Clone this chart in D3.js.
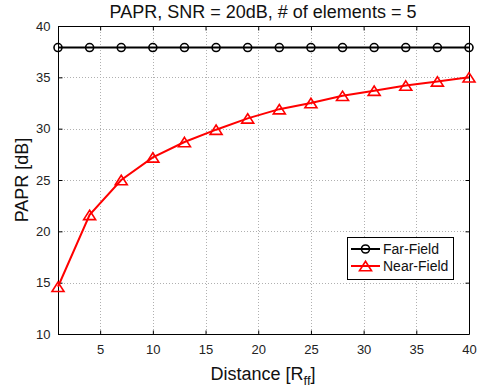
<!DOCTYPE html>
<html>
<head>
<meta charset="utf-8">
<script src="https://cdn.jsdelivr.net/npm/d3@7"></script>
<style>
  html, body { margin: 0; padding: 0; background: #fff; }
  svg { display: block; font-family: "Liberation Sans", Arial, sans-serif; }
</style>
</head>
<body>
<svg id="chart" width="482" height="391"></svg>
<script>
// Distance samples (in units of far-field distance)
const distance = [1, 4, 7, 10, 13, 16, 19, 22, 25, 28, 31, 34, 37, 40];
// PAPR in dB for each model
const farField = [37.9, 37.9, 37.9, 37.9, 37.9, 37.9, 37.9, 37.9, 37.9, 37.9, 37.9, 37.9, 37.9, 37.9];
const nearField = [14.6, 21.6, 25.0, 27.2, 28.7, 29.9, 31.0, 31.9, 32.5, 33.2, 33.7, 34.2, 34.6, 35.0];
const xTicks = [5, 10, 15, 20, 25, 30, 35, 40];
const yTicks = [10, 15, 20, 25, 30, 35, 40];

const svg = d3.select("#chart");
const m = { left: 58, right: 469, top: 26, bottom: 334 };

const x = d3.scaleLinear().domain([1, 40]).range([m.left, m.right]);
const y = d3.scaleLinear().domain([10, 40]).range([m.bottom, m.top]);

// grid
const grid = svg.append("g").attr("stroke", "#b0b0b0").attr("stroke-width", 1)
  .attr("stroke-dasharray", "1,2");
grid.selectAll(".gx").data(xTicks.filter(d => d < 40)).join("line")
  .attr("x1", d => Math.round(x(d)) + 0.5).attr("x2", d => Math.round(x(d)) + 0.5)
  .attr("y1", m.top).attr("y2", m.bottom);
grid.selectAll(".gy").data(yTicks.filter(d => d > 10 && d < 40)).join("line")
  .attr("y1", d => Math.round(y(d)) + 0.5).attr("y2", d => Math.round(y(d)) + 0.5)
  .attr("x1", m.left).attr("x2", m.right);

// axes with inward ticks, boxed
const tickLen = 4;
const axB = svg.append("g").attr("transform", `translate(0,${m.bottom + 0.5})`)
  .call(d3.axisBottom(x).tickValues(xTicks).tickSize(-tickLen).tickPadding(10));
const axT = svg.append("g").attr("transform", `translate(0,${m.top + 0.5})`)
  .call(d3.axisTop(x).tickValues(xTicks).tickSize(-tickLen).tickFormat(""));
const axL = svg.append("g").attr("transform", `translate(${m.left + 0.5},0)`)
  .call(d3.axisLeft(y).tickValues(yTicks).tickSize(-tickLen).tickPadding(8));
const axR = svg.append("g").attr("transform", `translate(${m.right + 0.5},0)`)
  .call(d3.axisRight(y).tickValues(yTicks).tickSize(-tickLen).tickFormat(""));
[axB, axT, axL, axR].forEach(a => {
  a.select(".domain").attr("stroke", "#000").attr("stroke-width", 1);
  a.selectAll(".tick line").attr("stroke", "#000");
  a.selectAll("text").attr("font-size", 13).attr("fill", "#222")
    .attr("font-family", "Liberation Sans, Arial, sans-serif");
});
axB.selectAll(".domain").attr("d", `M${m.left},0H${m.right}`);
axT.selectAll(".domain").attr("d", `M${m.left},0H${m.right}`);
axL.selectAll(".domain").attr("d", `M0,${m.top}V${m.bottom}`);
axR.selectAll(".domain").attr("d", `M0,${m.top}V${m.bottom}`);

// series
const line = d3.line().x(d => x(d[0])).y(d => y(d[1]));
const farPts = distance.map((d, i) => [d, farField[i]]);
const nearPts = distance.map((d, i) => [d, nearField[i]]);

// upward triangle marker, centred on its bounding box
const triPath = "M0,-4.7L6,4.7L-6,4.7Z";

svg.append("path").datum(farPts).attr("d", line)
  .attr("fill", "none").attr("stroke", "#000").attr("stroke-width", 2);
svg.append("g").selectAll("circle").data(farPts).join("circle")
  .attr("cx", d => x(d[0])).attr("cy", d => y(d[1])).attr("r", 4)
  .attr("fill", "none").attr("stroke", "#000").attr("stroke-width", 1.6);

svg.append("path").datum(nearPts).attr("d", line)
  .attr("fill", "none").attr("stroke", "#ff0000").attr("stroke-width", 2);
svg.append("g").selectAll("path").data(nearPts).join("path")
  .attr("d", triPath)
  .attr("transform", d => `translate(${x(d[0])},${y(d[1])})`)
  .attr("fill", "none").attr("stroke", "#ff0000").attr("stroke-width", 1.6);

// title and labels
svg.append("text").attr("x", 263).attr("y", 18).attr("text-anchor", "middle")
  .attr("font-size", 18).attr("fill", "#111").text("PAPR, SNR = 20dB, # of elements = 5");
const xl = svg.append("text").attr("x", 263).attr("y", 380).attr("text-anchor", "middle")
  .attr("font-size", 18).attr("fill", "#111");
xl.append("tspan").text("Distance [R");
xl.append("tspan").attr("font-size", 13).attr("dy", 5).text("ff");
xl.append("tspan").attr("dy", -5).text("]");
svg.append("text").attr("transform", `translate(28,${(m.top + m.bottom) / 2}) rotate(-90)`)
  .attr("text-anchor", "middle").attr("font-size", 18).attr("fill", "#111").text("PAPR [dB]");

// legend
const lg = svg.append("g");
lg.append("rect").attr("x", 347.5).attr("y", 237.5).attr("width", 106).attr("height", 42)
  .attr("fill", "#fff").attr("stroke", "#000").attr("stroke-width", 1);
const legendItems = [
  { name: "Far-Field", color: "#000", mark: "circle" },
  { name: "Near-Field", color: "#ff0000", mark: "tri" }
];
legendItems.forEach((it, i) => {
  const cy = 249 + i * 17;
  lg.append("line").attr("x1", 351).attr("x2", 380).attr("y1", cy).attr("y2", cy)
    .attr("stroke", it.color).attr("stroke-width", 2);
  if (it.mark === "circle") {
    lg.append("circle").attr("cx", 365.5).attr("cy", cy).attr("r", 4)
      .attr("fill", "none").attr("stroke", it.color).attr("stroke-width", 1.6);
  } else {
    lg.append("path").attr("d", triPath).attr("transform", `translate(365.5,${cy})`)
      .attr("fill", "none").attr("stroke", it.color).attr("stroke-width", 1.6);
  }
  lg.append("text").attr("x", 383).attr("y", cy + 5).attr("font-size", 14)
    .attr("fill", "#111").text(it.name);
});
</script>
</body>
</html>
